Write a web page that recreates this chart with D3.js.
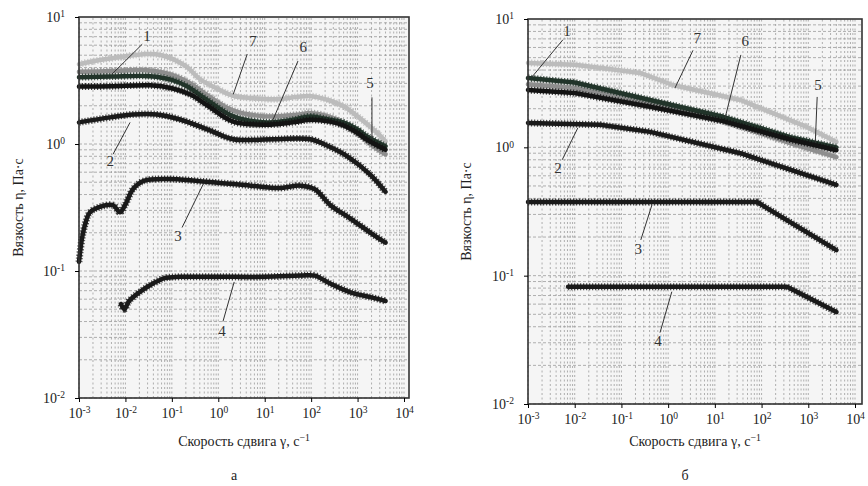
<!DOCTYPE html>
<html>
<head>
<meta charset="utf-8">
<script src="https://cdn.jsdelivr.net/npm/d3@7"></script>
<style>
  body { margin: 0; background: #fff; }
  svg { display: block; font-family: "Liberation Serif", "DejaVu Serif", serif; }
</style>
</head>
<body>
<div id="chart"></div>
<script>
// tick values / labels
const xTicks = [1e-3, 1e-2, 1e-1, 1, 1e1, 1e2, 1e3, 1e4];
const xTickExp = ["-3", "-2", "-1", "0", "1", "2", "3", "4"];
const yTicks = [1e-2, 1e-1, 1, 1e1];
const yTickExp = ["-2", "-1", "0", "1"];
const xTitle = "Скорость сдвига γ, с";
const xTitleExp = "−1";
const yTitle = "Вязкость η, Па·с";
const panelLetters = ["а", "б"];

// panel а : [shear rate, viscosity]
const a7 = [[0.001,4.25],[0.003,4.6],[0.01,4.9],[0.024,5.1],[0.06,5.0],[0.2,4.1],[0.4,3.25],[1,2.7],[2.1,2.4],[5,2.3],[18,2.25],[50,2.35],[100,2.38],[250,2.2],[500,1.98],[1000,1.65],[2200,1.3],[4000,1.05]];
const a5 = [[0.001,3.7],[0.005,3.75],[0.03,3.8],[0.1,3.5],[0.25,3.0],[0.6,2.4],[2,1.85],[10,1.65],[50,1.7],[100,1.75],[300,1.6],[600,1.4],[1200,1.15],[2000,0.98],[4000,0.83]];
const a1 = [[0.001,3.36],[0.005,3.4],[0.034,3.42],[0.1,3.2],[0.21,2.85],[0.6,2.2],[2.1,1.65],[11,1.48],[40,1.55],[96,1.65],[250,1.55],[490,1.48],[1000,1.3],[1600,1.15],[4000,0.96]];
const a6 = [[0.001,2.83],[0.005,2.85],[0.034,2.9],[0.1,2.75],[0.25,2.45],[0.6,2.0],[2.1,1.5],[11,1.42],[40,1.48],[96,1.55],[250,1.5],[490,1.4],[1000,1.22],[1600,1.08],[4000,0.9]];
const a2 = [[0.001,1.48],[0.0047,1.62],[0.0145,1.71],[0.048,1.71],[0.15,1.56],[0.66,1.28],[2.1,1.09],[15,1.09],[96,1.09],[250,0.95],[600,0.8],[1870,0.575],[4000,0.42]];
const a3 = [[0.001,0.118],[0.00115,0.177],[0.00135,0.232],[0.0017,0.288],[0.0028,0.32],[0.0054,0.33],[0.0076,0.29],[0.0098,0.33],[0.0145,0.44],[0.024,0.51],[0.08,0.53],[0.4,0.51],[5,0.47],[20,0.45],[60,0.47],[120,0.44],[260,0.33],[690,0.26],[1900,0.2],[4000,0.167]];
const a4 = [[0.008,0.055],[0.0095,0.05],[0.012,0.058],[0.02,0.068],[0.04,0.08],[0.07,0.088],[0.15,0.09],[1,0.09],[10,0.09],[60,0.092],[120,0.092],[250,0.08],[700,0.068],[2000,0.062],[4000,0.058]];

// panel б
const b7 = [[0.001,4.55],[0.01,4.4],[0.05,4.1],[0.25,3.8],[1.26,3.06],[35,2.34],[930,1.44],[4000,1.1]];
const b5 = [[0.001,3.1],[0.01,2.9],[0.41,2.2],[15,1.6],[410,1.08],[4000,0.84]];
const b1 = [[0.001,3.47],[0.01,3.2],[0.41,2.34],[15,1.73],[410,1.2],[4000,1.0]];
const b6 = [[0.001,2.8],[0.01,2.65],[0.41,2.07],[15,1.6],[410,1.15],[4000,0.95]];
const b2 = [[0.001,1.55],[0.035,1.5],[0.41,1.32],[35,0.9],[4000,0.51]];
const b3 = [[0.001,0.375],[80,0.375],[4000,0.158]];
const b4 = [[0.0072,0.082],[350,0.082],[4000,0.052]];

// curve labels: [text, label x, label y, line from x, y, line to x, y]
const aLabels = [["1",0.029,6.9,0.023,6.1,0.0051,3.54],["7",5.6,6.3,4.2,5.1,2.1,2.46],["6",68,5.6,52,4.5,14.5,1.5],["5",1860,2.95,2040,2.33,2040,1.09],["2",0.0047,0.72,0.0054,0.83,0.0126,1.48],["3",0.135,0.183,0.166,0.22,0.47,0.48],["4",1.2,0.033,1.26,0.04,2.2,0.082]];
const bLabels = [["1",0.0068,7.9,0.0056,6.9,0.00122,3.54],["7",4.2,6.9,3.4,5.7,1.4,2.9],["6",45,6.5,36,5.25,16.6,1.7],["5",1620,2.96,1550,2.47,1410,1.08],["2",0.0044,0.67,0.0054,0.8,0.0117,1.42],["3",0.23,0.158,0.26,0.19,0.45,0.356],["4",0.61,0.03,0.67,0.036,1.2,0.075]];

const curveColor = {"7": "#bcbcbc", "5": "#8e8e8e", "1": "#22342a", "6": "#141414", "2": "#1a1a1a", "3": "#1a1a1a", "4": "#1a1a1a"};

const panels = [
  {curves: [["7",a7],["5",a5],["1",a1],["6",a6],["2",a2],["3",a3],["4",a4]], labels: aLabels,
   x0: 79, x1: 404, frameR: 409, y0: 398, y1: 17, smooth: true, ytitleX: 20, letter: 0},
  {curves: [["7",b7],["5",b5],["1",b1],["6",b6],["2",b2],["3",b3],["4",b4]], labels: bLabels,
   x0: 528, x1: 855, frameR: 862, y0: 404, y1: 19, smooth: false, ytitleX: 468, letter: 1}
];

const svg = d3.select("#chart").append("svg")
  .attr("width", 868).attr("height", 486);

function powText(sel, exp) {
  sel.text(null);
  sel.append("tspan").text("10");
  sel.append("tspan").attr("dy", "-0.5em").attr("font-size", "0.68em").text(exp);
}

panels.forEach(function(p) {
  var x = d3.scaleLog().domain([1e-3, 1e4]).range([p.x0, p.x1]);
  var y = d3.scaleLog().domain([1e-2, 1e1]).range([p.y0, p.y1]);
  var g = svg.append("g");

  // plot background
  g.append("rect")
    .attr("x", p.x0).attr("y", p.y1)
    .attr("width", p.frameR - p.x0).attr("height", p.y0 - p.y1)
    .attr("fill", "#f5f5f5");

  // dense log grid
  var xg = [], yg = [];
  for (var k = -3; k < 4; k++) for (var m = 1; m < 10; m++) xg.push(m * Math.pow(10, k));
  xg.push(1e4);
  for (var k2 = -2; k2 < 1; k2++) for (var m2 = 1; m2 < 10; m2++) yg.push(m2 * Math.pow(10, k2));
  g.selectAll(".vg").data(xg).enter().append("line")
    .attr("x1", d => x(d)).attr("x2", d => x(d))
    .attr("y1", p.y0).attr("y2", p.y1)
    .attr("stroke", "#9c9c9c").attr("stroke-width", 0.8)
    .attr("stroke-dasharray", "2,2.5");
  g.selectAll(".hg").data(yg).enter().append("line")
    .attr("x1", p.x0).attr("x2", p.frameR)
    .attr("y1", d => y(d)).attr("y2", d => y(d))
    .attr("stroke", "#9c9c9c").attr("stroke-width", 0.8)
    .attr("stroke-dasharray", "3,2");

  // curves
  var line = d3.line()
    .x(d => x(d[0])).y(d => y(d[1]))
    .curve(p.smooth ? d3.curveCatmullRom.alpha(0.5) : d3.curveLinear);
  p.curves.forEach(function(c) {
    var col = curveColor[c[0]];
    g.append("path").datum(c[1])
      .attr("d", line).attr("fill", "none")
      .attr("stroke", col).attr("stroke-width", 4.5)
      .attr("stroke-linecap", "round").attr("stroke-linejoin", "round");
    // serrated marker edge
    g.append("path").datum(c[1])
      .attr("d", line).attr("fill", "none")
      .attr("stroke", col).attr("stroke-width", 7)
      .attr("stroke-dasharray", "1.2,1.8").attr("opacity", 0.8);
  });

  // frame
  g.append("rect")
    .attr("x", p.x0).attr("y", p.y1)
    .attr("width", p.frameR - p.x0).attr("height", p.y0 - p.y1)
    .attr("fill", "none").attr("stroke", "#333").attr("stroke-width", 1.6);

  // axes
  var xAxis = g.append("g").attr("transform", "translate(0," + p.y0 + ")")
    .call(d3.axisBottom(x).tickValues(xTicks).tickSize(4).tickPadding(6));
  xAxis.select(".domain").remove();
  xAxis.selectAll(".tick text")
    .attr("font-family", "Liberation Serif").attr("font-size", 14).attr("fill", "#222")
    .each(function(d, i) { powText(d3.select(this), xTickExp[i]); });

  var yAxis = g.append("g").attr("transform", "translate(" + p.x0 + ",0)")
    .call(d3.axisLeft(y).tickValues(yTicks).tickSize(4).tickPadding(10));
  yAxis.select(".domain").remove();
  yAxis.selectAll(".tick text")
    .attr("font-family", "Liberation Serif").attr("font-size", 14).attr("fill", "#222")
    .each(function(d, i) { powText(d3.select(this), yTickExp[i]); });

  // curve numbers with leader lines
  g.selectAll(".lead").data(p.labels).enter().append("line")
    .attr("x1", d => x(d[3])).attr("y1", d => y(d[4]))
    .attr("x2", d => x(d[5])).attr("y2", d => y(d[6]))
    .attr("stroke", "#333").attr("stroke-width", 1);
  g.selectAll(".num").data(p.labels).enter().append("text")
    .attr("x", d => x(d[1])).attr("y", d => y(d[2]))
    .attr("text-anchor", "middle").attr("dominant-baseline", "middle")
    .attr("font-size", 15).attr("fill", "#333")
    .text(d => d[0]);

  // titles
  var xt = g.append("text")
    .attr("x", (p.x0 + p.frameR) / 2).attr("y", 446)
    .attr("text-anchor", "middle").attr("font-size", 14).attr("fill", "#222")
    .text(xTitle);
  xt.append("tspan").attr("dy", "-0.5em").attr("font-size", "0.7em").text(xTitleExp);

  g.append("text")
    .attr("transform", "translate(" + p.ytitleX + "," + ((p.y0 + p.y1) / 2) + ") rotate(-90)")
    .attr("text-anchor", "middle").attr("dominant-baseline", "middle")
    .attr("font-size", 14).attr("fill", "#222")
    .text(yTitle);

  g.append("text")
    .attr("x", (p.x0 + p.frameR) / 2 - 10).attr("y", 480)
    .attr("text-anchor", "middle").attr("font-size", 14).attr("fill", "#222")
    .text(panelLetters[p.letter]);
});
</script>
</body>
</html>
